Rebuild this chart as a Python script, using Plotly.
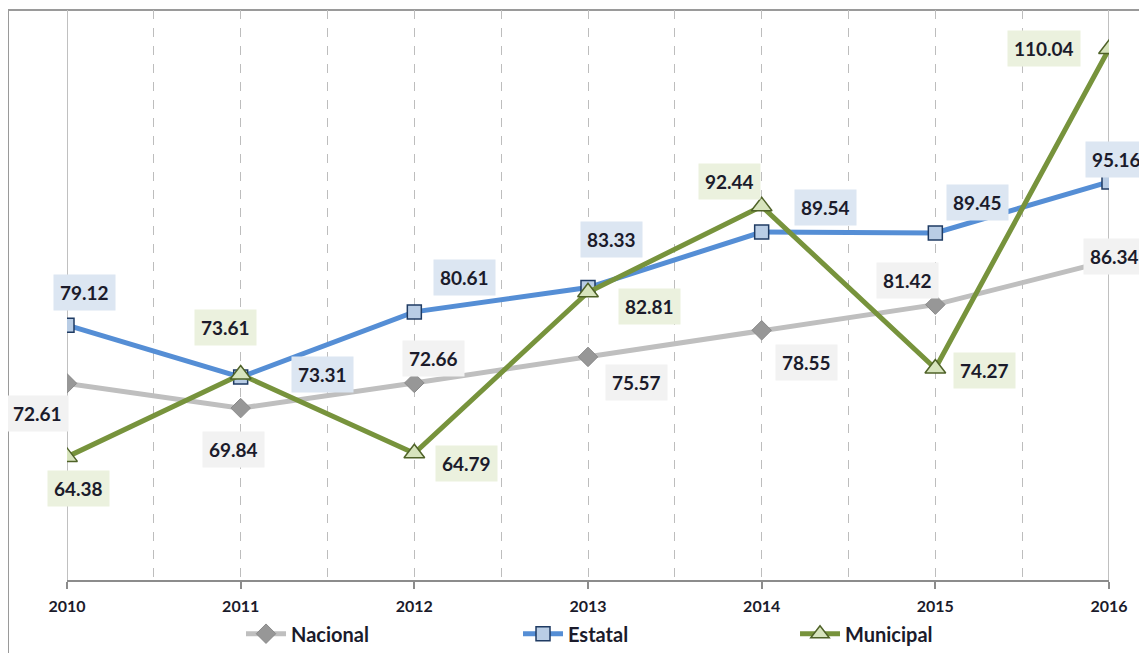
import plotly.graph_objects as go

years = [2010, 2011, 2012, 2013, 2014, 2015, 2016]
nacional = [72.61, 69.84, 72.66, 75.57, 78.55, 81.42, 86.34]
estatal = [79.12, 73.31, 80.61, 83.33, 89.54, 89.45, 95.16]
municipal = [64.38, 73.61, 64.79, 82.81, 92.44, 74.27, 110.04]

# label offsets (px) relative to each point
nac_off = [(-30, -30), (-7, -41), (19, 24), (48, -26), (45, -32), (-28, 24), (5, 4)]
est_off = [(17, 33), (82, 3), (50, 34), (23, 48), (64, 25), (42, 30), (7, 22)]
mun_off = [(11, -32), (-15, 47), (52, -10), (61, -14), (-32, 25), (49, -2), (-65, 0)]

W, H = 1147, 653
ml, mr, mt, mb = 59, 46, 2, 81
pw, ph = W - ml - mr, H - mt - mb

font_fam = "Lato, 'Open Sans', sans-serif"
txt_col = "#1b1b2b"

fig = go.Figure()
fig.add_trace(go.Scatter(
    x=years, y=nacional, name="Nacional", mode="lines+markers",
    line=dict(color="#bfbfbf", width=5),
    marker=dict(symbol="diamond", size=15, color="#979797", line=dict(color="#8a8a8a", width=1))))
fig.add_trace(go.Scatter(
    x=years, y=estatal, name="Estatal", mode="lines+markers",
    line=dict(color="#558ed5", width=5),
    marker=dict(symbol="square", size=14, color="#b9cde5", line=dict(color="#1f3b63", width=1.5))))
fig.add_trace(go.Scatter(
    x=years, y=municipal, name="Municipal", mode="lines+markers",
    line=dict(color="#77933c", width=5),
    marker=dict(symbol="triangle-up", size=18, color="#d7e4bd", line=dict(color="#4f6228", width=1.5))))

annotations = []
for vals, offs, bg in [(nacional, nac_off, "#f2f2f2"),
                       (estatal, est_off, "#dce6f2"),
                       (municipal, mun_off, "#ebf1de")]:
    for xv, yv, (dx, dy) in zip(years, vals, offs):
        annotations.append(dict(
            x=xv, y=yv, xref="x", yref="y", text=f"{yv:.2f}", showarrow=False,
            xshift=dx, yshift=dy, bgcolor=bg, borderpad=6,
            font=dict(family=font_fam, size=19, color=txt_col, weight="bold")))

shapes = [
    # outer chart frame
    dict(type="rect", xref="paper", yref="paper",
         x0=-ml / pw, x1=1.2, y0=-0.3, y1=1.0,
         line=dict(color="#9a9a9a", width=2), fillcolor="rgba(0,0,0,0)", layer="below"),
]
# solid end gridlines
for xv in (years[0], years[-1]):
    shapes.append(dict(type="line", xref="x", yref="paper", x0=xv, x1=xv, y0=0, y1=1,
                       line=dict(color="#c0c0c0", width=2), layer="below"))

fig.update_layout(
    width=W, height=H,
    margin=dict(l=ml, r=mr, t=mt, b=mb, autoexpand=False),
    paper_bgcolor="white", plot_bgcolor="white",
    showlegend=True,
    legend=dict(orientation="h", x=0.167, xanchor="left", y=-0.06, yanchor="top",
                font=dict(family=font_fam, size=20, color=txt_col, weight="bold"),
                entrywidth=222, itemwidth=40, bgcolor="rgba(0,0,0,0)"),
    xaxis=dict(range=[years[0], years[-1]], tickvals=years, ticktext=[str(y) for y in years],
               showgrid=True, gridcolor="#bdbdbd", griddash="dash", gridwidth=1,
               minor=dict(dtick=0.5, tick0=years[0], showgrid=True, gridcolor="#bdbdbd",
                          griddash="dash", gridwidth=1),
               showline=True, linecolor="#8c8c8c", linewidth=2,
               ticks="outside", ticklen=7, tickcolor="#8c8c8c", tickwidth=1.5,
               ticklabelstandoff=4,
               tickfont=dict(family=font_fam, size=16, color=txt_col, weight="bold"),
               zeroline=False, fixedrange=True),
    yaxis=dict(range=[50.6, 114.4], showgrid=False, showticklabels=False, zeroline=False,
               showline=False, ticks=""),
    annotations=annotations,
    shapes=shapes,
)

fig.write_html("out.html")
